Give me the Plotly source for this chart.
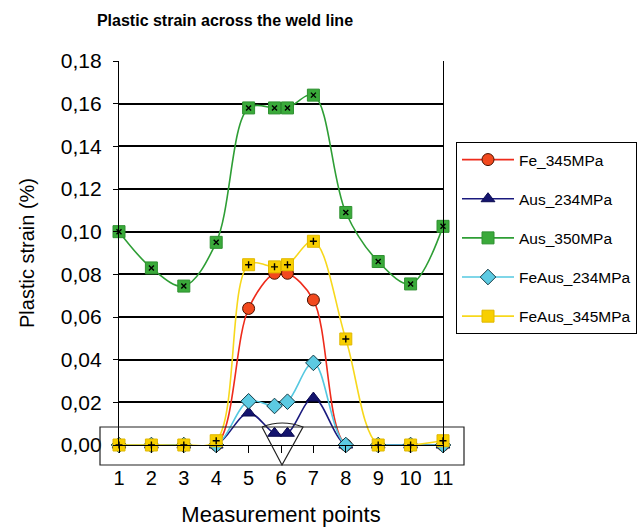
import plotly.graph_objects as go

# Measurement positions (point 6 was measured twice, on either side of the weld centre)
x_pos = [1, 2, 3, 4, 5, 5.8, 6.2, 7, 8, 9, 10, 11]
tick_vals = [1, 2, 3, 4, 5, 6, 7, 8, 9, 10, 11]
tick_text = ["1", "2", "3", "4", "5", "6", "7", "8", "9", "10", "11"]

# Plastic strain (%) per series
fe_345 = [0.0, 0.0, 0.0, 0.0, 0.064, 0.0805, 0.0805, 0.068, 0.0, 0.0, 0.0, 0.0]
aus_234 = [0.0, 0.0, 0.0, 0.0, 0.015, 0.0055, 0.0055, 0.022, 0.0, 0.0, 0.0, 0.0]
aus_350 = [0.100, 0.083, 0.0745, 0.095, 0.158, 0.158, 0.158, 0.164, 0.109, 0.086, 0.0755, 0.1025]
feaus_234 = [0.0, 0.0, 0.0, 0.0, 0.0205, 0.0183, 0.0203, 0.0385, 0.0, 0.0, 0.0, 0.0]
feaus_345 = [0.0, 0.0, 0.0, 0.002, 0.0845, 0.0835, 0.0845, 0.0955, 0.0497, 0.0, 0.0, 0.002]

y_ticks = [0.0, 0.02, 0.04, 0.06, 0.08, 0.10, 0.12, 0.14, 0.16, 0.18]

FONT = "Liberation Sans, Arial, Helvetica, sans-serif"
W, H = 639, 529
L, R, T, B = 119, 196, 61, 84

fig = go.Figure()


def add_series(name, y, line_color, symbol, fill, outline, size, inner=None):
    fig.add_trace(go.Scatter(
        x=x_pos, y=y, name=name, mode="lines+markers",
        line=dict(color=line_color, width=1.6, shape="spline", smoothing=1.0),
        marker=dict(symbol=symbol, size=size, color=fill,
                    line=dict(color=outline, width=1)),
        cliponaxis=False,
    ))
    if inner is not None:
        fig.add_trace(go.Scatter(
            x=x_pos, y=y, mode="markers", showlegend=False, hoverinfo="skip",
            marker=dict(symbol=inner, size=5, color="black",
                        line=dict(color="black", width=1.4)),
            cliponaxis=False,
        ))


add_series("Fe_345MPa", fe_345, "#EE2B1B", "circle", "#F2491E", "#4A1200", 12)
add_series("Aus_234MPa", aus_234, "#1A1A7E", "triangle-up", "#14146E", "#0A0A50", 12)
add_series("Aus_350MPa", aus_350, "#2E9E35", "square", "#3AAA3A", "#2E9030", 12, "x-thin")
add_series("FeAus_234MPa", feaus_234, "#55C8E0", "diamond", "#5CCAE2", "#163C46", 12)
add_series("FeAus_345MPa", feaus_345, "#F7D81C", "square", "#F8CF00", "#E0B800", 12, "cross-thin")


def px(xp, yp):
    """Pixel position on the page -> paper coordinates of the plot area."""
    return (xp - L) / (W - L - R), (H - B - yp) / (H - T - B)


# Zoom box around the zero line and the magnifier cone at point 6
bx0, by0 = px(100, 465)
bx1, by1 = px(464, 427)
fig.add_shape(type="rect", xref="paper", yref="paper",
              x0=bx0, y0=by0, x1=bx1, y1=by1,
              line=dict(color="#222222", width=1.2), fillcolor="rgba(0,0,0,0)")

cl = px(262, 427)
ca = px(282, 465)
cr = px(303, 427)
cc = px(282, 419)
cone = (f"M {cl[0]},{cl[1]} L {ca[0]},{ca[1]} L {cr[0]},{cr[1]} "
        f"Q {cc[0]},{cc[1]} {cl[0]},{cl[1]}")
fig.add_shape(type="path", xref="paper", yref="paper", path=cone,
              line=dict(color="#222222", width=1.2))

fig.update_layout(
    width=W, height=H,
    margin=dict(l=L, r=R, t=T, b=B, autoexpand=False),
    paper_bgcolor="white", plot_bgcolor="white",
    separators=",.",
    font=dict(family=FONT, color="black"),
    title=dict(text="<b>Plastic strain across the weld line</b>",
               font=dict(size=16, family=FONT),
               x=225 / W, xanchor="center", y=1 - 20 / H, yanchor="middle",
               xref="container", yref="container"),
    xaxis=dict(
        range=[1, 11], tickmode="array", tickvals=tick_vals, ticktext=tick_text,
        showgrid=False, zeroline=False, showline=True, linecolor="black", linewidth=1.2,
        ticks="outside", ticklen=7, tickcolor="black", tickwidth=1.2,
        tickfont=dict(size=20), ticklabelstandoff=8,
        title=dict(text="Measurement points", font=dict(size=22), standoff=18),
        automargin=False,
    ),
    yaxis=dict(
        range=[0, 0.18], tickmode="array", tickvals=y_ticks, tickformat=".2f",
        showgrid=True, gridcolor="black", gridwidth=1.5,
        zeroline=False, showline=True, linecolor="black", linewidth=1.2, mirror=True,
        ticks="outside", ticklen=5, tickcolor="black", tickwidth=1.2,
        tickfont=dict(size=21), ticklabelstandoff=7,
        title=dict(text="Plastic strain (%)", font=dict(size=20), standoff=20),
        automargin=False,
    ),
    legend=dict(
        xref="container", yref="container",
        x=456 / W, y=1 - 142 / H, xanchor="left", yanchor="top",
        bordercolor="black", borderwidth=1, bgcolor="white",
        font=dict(size=15.5, family=FONT),
        itemwidth=52, tracegroupgap=16,
    ),
    showlegend=True,
)

# Separate legend groups so the group gap spaces the entries out
for i, tr in enumerate(fig.data):
    tr.legendgroup = f"g{i}"

fig.write_html("out.html")
